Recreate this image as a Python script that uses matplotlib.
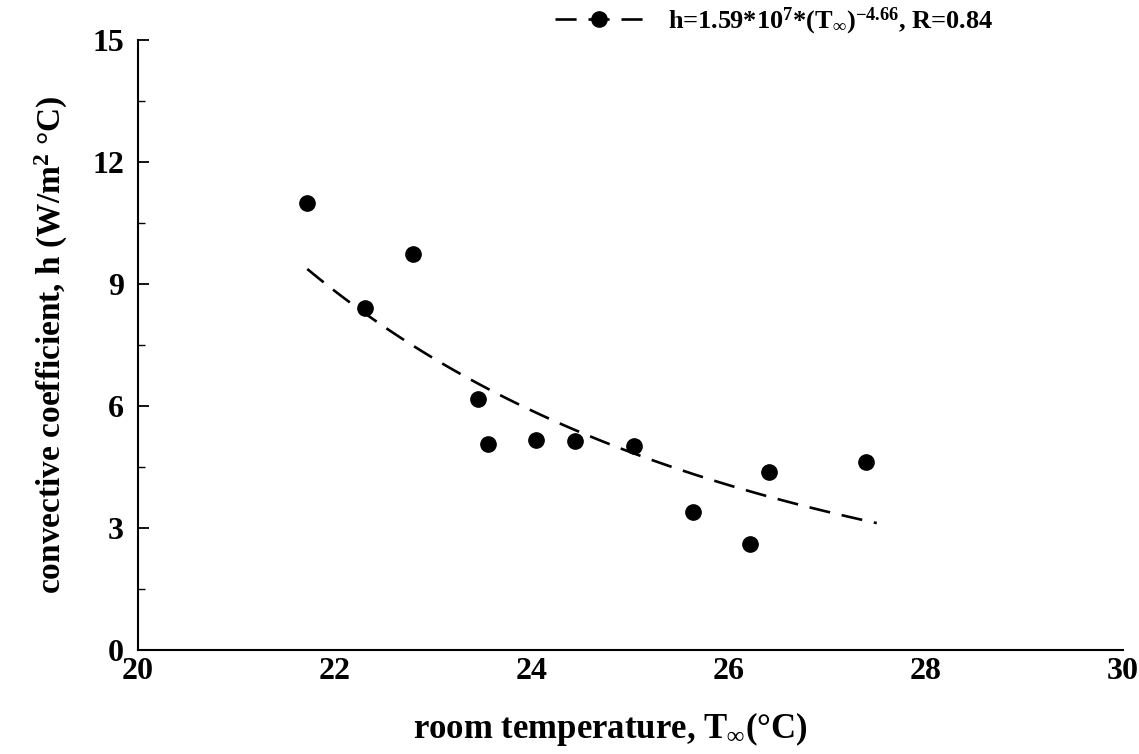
import numpy as np
import matplotlib
matplotlib.use('Agg')
import matplotlib.pyplot as plt
from matplotlib.ticker import MultipleLocator

plt.rcParams['font.family'] = 'Liberation Serif'
plt.rcParams['font.weight'] = 'bold'
plt.rcParams['mathtext.fontset'] = 'custom'
plt.rcParams['mathtext.rm'] = 'Liberation Serif:bold'
plt.rcParams['mathtext.it'] = 'Liberation Serif:bold'
plt.rcParams['mathtext.bf'] = 'Liberation Serif:bold'

room_temp = [21.72, 22.31, 22.79, 23.45, 23.55, 24.04, 24.44, 25.04, 25.63, 26.21, 26.41, 27.39]
conv_coef = [11.0, 8.41, 9.74, 6.17, 5.07, 5.16, 5.14, 5.02, 3.39, 2.61, 4.38, 4.62]

# power-law fit given in the legend
fit_a = 1.59e7
fit_b = -4.66
fit_range = (21.72, 27.5)

fig = plt.figure(figsize=(11.39, 7.54), dpi=100)
ax = fig.add_axes([0.121, 0.138, 0.865, 0.809])

ax.plot(room_temp, conv_coef, 'o', color='black', markersize=11)

t_fit = np.linspace(fit_range[0], fit_range[1], 100)
ax.plot(t_fit, fit_a * t_fit ** fit_b, color='black', lw=1.9, dashes=(8, 4.5))

ax.set_xlim(20, 30)
ax.set_ylim(0, 15)
ax.set_xticks([20, 22, 24, 26, 28, 30])
ax.set_yticks([0, 3, 6, 9, 12, 15])
ax.yaxis.set_minor_locator(MultipleLocator(1.5))
ax.tick_params(axis='y', which='major', direction='in', length=8, width=1.3, labelsize=23, pad=10)
ax.tick_params(axis='y', which='minor', direction='in', length=5, width=1.0)
ax.tick_params(axis='x', which='major', length=0, labelsize=23, pad=5)
for lbl in ax.get_xticklabels() + ax.get_yticklabels():
    lbl.set_fontweight('bold')

ax.spines['top'].set_visible(False)
ax.spines['right'].set_visible(False)
ax.spines['left'].set_linewidth(1.5)
ax.spines['bottom'].set_linewidth(1.5)

ax.set_xlabel(r'room temperature, T$_\infty$(°C)', fontsize=25, fontweight='bold')
ax.xaxis.set_label_coords(0.48, -0.098)
ax.set_ylabel(r'convective coefficient, h (W/m$^2$ °C)', fontsize=24, fontweight='bold', labelpad=16)

handle, = ax.plot([], [], color='black', lw=1.9, dashes=(8, 4.5), marker='o', markersize=11)
fig.legend([handle], [r'h=1.59*10$^7$*(T$_\infty$)$^{-4.66}$, R=0.84'],
           loc='center left', bbox_to_anchor=(0.466, 0.972), frameon=False,
           handlelength=3.4, handletextpad=0.9,
           prop={'weight': 'bold', 'size': 19})

fig.savefig('out.png', dpi=100)
